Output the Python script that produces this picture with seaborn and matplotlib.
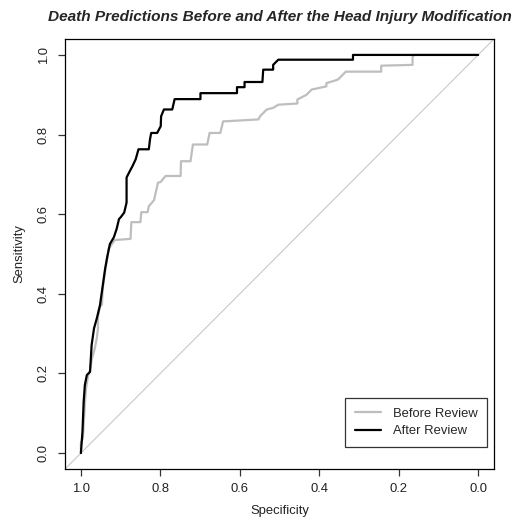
import matplotlib
matplotlib.use("Agg")
import matplotlib.pyplot as plt
import seaborn as sns
import pandas as pd
from matplotlib.lines import Line2D

# ROC curve vertices (specificity, sensitivity)
before_spec = [1.000, 1.000, 0.995, 0.992, 0.990, 0.987, 0.982, 0.977, 0.972, 0.965,
               0.960, 0.957, 0.957, 0.952, 0.947, 0.945, 0.940, 0.935, 0.930, 0.922,
               0.915, 0.875, 0.873, 0.850, 0.848, 0.832, 0.829, 0.816, 0.806, 0.799,
               0.787, 0.749, 0.748, 0.724, 0.718, 0.682, 0.676, 0.649, 0.642, 0.553,
               0.549, 0.532, 0.516, 0.503, 0.455, 0.455, 0.432, 0.419, 0.382, 0.382,
               0.353, 0.333, 0.244, 0.244, 0.165, 0.165, 0.160, 0.000]
before_sens = [0.000, 0.025, 0.038, 0.088, 0.125, 0.163, 0.193, 0.208, 0.238, 0.263,
               0.288, 0.313, 0.343, 0.368, 0.373, 0.413, 0.450, 0.483, 0.513, 0.525,
               0.535, 0.538, 0.580, 0.580, 0.605, 0.605, 0.620, 0.635, 0.679, 0.681,
               0.696, 0.696, 0.733, 0.733, 0.775, 0.775, 0.804, 0.804, 0.833, 0.838,
               0.846, 0.863, 0.867, 0.875, 0.878, 0.888, 0.900, 0.913, 0.921, 0.929,
               0.938, 0.958, 0.958, 0.973, 0.975, 0.996, 1.000, 1.000]

after_spec = [1.000, 0.996, 0.993, 0.990, 0.985, 0.977, 0.973, 0.967, 0.960, 0.952,
              0.946, 0.939, 0.933, 0.927, 0.917, 0.910, 0.904, 0.900, 0.891, 0.885,
              0.885, 0.879, 0.870, 0.862, 0.855, 0.829, 0.826, 0.823, 0.808, 0.799,
              0.798, 0.791, 0.770, 0.764, 0.699, 0.699, 0.607, 0.607, 0.588, 0.588,
              0.543, 0.541, 0.516, 0.516, 0.503, 0.315, 0.315, 0.000]
after_sens = [0.000, 0.054, 0.129, 0.171, 0.196, 0.204, 0.271, 0.313, 0.338, 0.371,
              0.413, 0.463, 0.496, 0.525, 0.542, 0.563, 0.588, 0.592, 0.604, 0.629,
              0.692, 0.704, 0.721, 0.738, 0.763, 0.763, 0.788, 0.804, 0.804, 0.821,
              0.846, 0.863, 0.863, 0.889, 0.889, 0.904, 0.904, 0.919, 0.919, 0.932,
              0.932, 0.963, 0.963, 0.975, 0.988, 0.988, 1.000, 1.000]

series_names = ["Before Review", "After Review"]
series_colors = ["#bebebe", "#000000"]
x_ticks = [1.0, 0.8, 0.6, 0.4, 0.2, 0.0]
y_ticks = [0.0, 0.2, 0.4, 0.6, 0.8, 1.0]

df = pd.concat([
    pd.DataFrame({"spec": before_spec, "sens": before_sens, "curve": series_names[0]}),
    pd.DataFrame({"spec": after_spec, "sens": after_sens, "curve": series_names[1]}),
], ignore_index=True)

sns.set_theme(style="ticks")
plt.rcParams["font.family"] = ["Liberation Sans", "DejaVu Sans"]

fig = plt.figure(figsize=(5.14, 5.24), dpi=100)
ax = fig.add_axes([65/514, 1 - 469/524, (494-65)/514, (469-39)/524])

# chance diagonal
ax.axline((0, 1), slope=-1, color="#c8c8c8", lw=0.8, zorder=1)

sns.lineplot(data=df, x="spec", y="sens", hue="curve", hue_order=series_names,
             palette=dict(zip(series_names, series_colors)), sort=False,
             estimator=None, lw=1.6, ax=ax, legend=False, zorder=3)

ax.set_xlim(1.04, -0.04)
ax.set_ylim(-0.04, 1.04)
ax.set_xticks(x_ticks)
ax.set_xticklabels([f"{v:.1f}" for v in x_ticks])
ax.set_yticks(y_ticks)
ax.set_yticklabels([f"{v:.1f}" for v in y_ticks], rotation=90, va="center")

fs = 9.4
for s in ax.spines.values():
    s.set_color("black")
    s.set_linewidth(0.9)
ax.tick_params(axis="both", length=5, width=0.9, color="#333333",
               labelsize=fs, labelcolor="#222222")
ax.tick_params(axis="x", pad=5)
ax.tick_params(axis="y", pad=6)

ax.set_xlabel("Specificity", fontsize=fs, color="#222222", labelpad=7)
ax.set_ylabel("Sensitivity", fontsize=fs, color="#222222", labelpad=9)
ax.set_title("Death Predictions Before and After the Head Injury Modification",
             fontsize=11.1, fontweight="bold", fontstyle="italic", pad=13)

handles = [Line2D([0], [0], color=c, lw=1.6) for c in series_colors]
leg = ax.legend(handles, series_names, loc="lower right",
                bbox_to_anchor=(0.984, 0.051), borderaxespad=0,
                frameon=True, fancybox=False, fontsize=fs,
                handlelength=2.0, handletextpad=0.9, labelspacing=0.4,
                borderpad=0.75)
leg.get_frame().set_edgecolor("black")
leg.get_frame().set_linewidth(0.9)

fig.savefig("out.png", dpi=100, facecolor="white")
